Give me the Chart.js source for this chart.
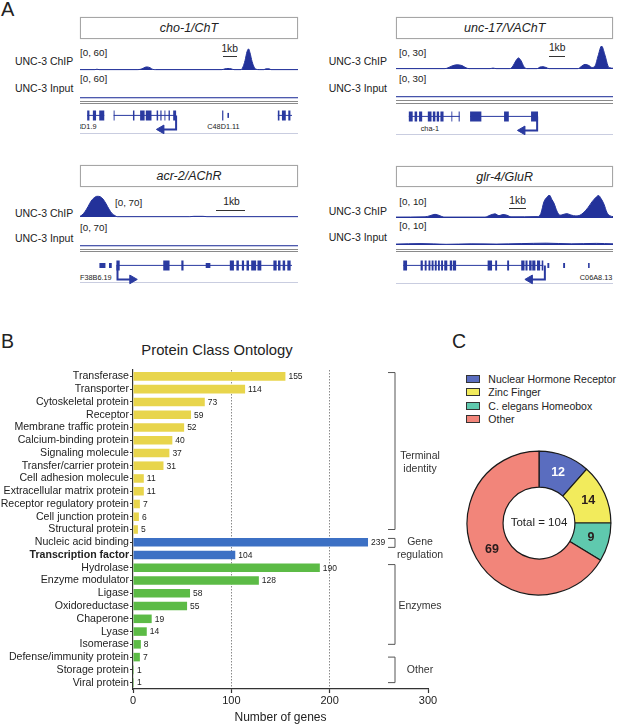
<!DOCTYPE html>
<html><head><meta charset="utf-8">
<script src="https://cdn.jsdelivr.net/npm/chart.js@4.4.1/dist/chart.umd.min.js"></script>
<style>
html,body{margin:0;padding:0;background:#fff;}
#root{position:relative;width:617px;height:725px;overflow:hidden;font-family:"Liberation Sans",Arial,Helvetica,sans-serif;color:#222;}
.t{position:absolute;white-space:nowrap;line-height:1;}
canvas{position:absolute;}
.hl{position:absolute;height:0;}
.box{position:absolute;box-sizing:border-box;border:1px solid #a6a6a6;display:flex;align-items:center;justify-content:center;font-style:italic;font-size:12.5px;color:#222;box-shadow:0 0 1px #ccc;}
</style></head><body><div id="root"></div>
<script>
// ---------------- DATA ----------------
// Panel A: genome-browser tracks, positions in kb from the left edge of each view, [position, signal]
const choChip = [[0,1],[1.07,1],[1.21,2],[1.36,1],[4.14,1],[4.43,3],[4.64,7],[4.79,8],[5.0,6],[5.21,1.5],[5.4,1],[10.14,1],[10.36,3],[10.57,4],[10.79,3],[11.0,1],[11.5,1],[11.64,8],[11.79,25],[11.93,48],[12.04,55],[12.14,45],[12.29,22],[12.43,8],[12.57,2],[12.8,1],[13.14,1],[13.29,3],[13.5,3],[13.64,1],[15.57,1]];
const choInput = [[0,0.6],[15.57,0.6]];
const choExons = [[0.09,0.26],[0.52,0.76],[1.0,1.38],[2.09,2.16],[3.55,3.66],[4.09,4.43],[4.52,4.95],[5.34,5.45],[5.62,5.71],[5.93,6.0],[6.24,6.34],[6.59,6.81],[10.29,10.38],[14.5,14.62],[14.81,15.1],[15.29,15.45]];
const choUtr = [[10.69,10.81]];
const choIntrons = [[0.09,1.38],[2.09,6.81],[14.5,15.57]];
const choTss = [6.81, 5.7];

const uncChip = [[0,0.5],[3.12,0.5],[3.31,1.5],[3.57,4],[3.89,5.5],[4.2,4.5],[4.46,1.5],[4.65,0.5],[5.99,0.5],[6.18,1.2],[6.37,0.5],[7.26,0.5],[7.45,4],[7.64,11],[7.8,14.5],[7.96,11],[8.15,3],[8.34,0.5],[8.98,0.5],[9.17,2.5],[9.36,3],[9.55,2],[9.75,0.5],[11.59,0.5],[11.78,3],[12.04,6],[12.29,4.5],[12.48,2],[12.68,4],[12.87,17],[13.09,30],[13.31,18],[13.5,4],[13.63,1.5],[13.82,1]];
const uncInput = [[0,0.35],[13.82,0.35]];
const uncExons = [[0.46,0.72],[0.85,1.02],[1.15,1.36],[1.74,1.99],[2.08,2.25],[2.34,2.5],[2.59,2.8],[3.33,3.39],[3.82,3.89],[4.59,5.35],[6.88,7.2],[8.7,9.17]];
const uncUtr = [];
const uncIntrons = [[0.46,3.89],[4.59,9.17]];
const uncTss = [9.11, 8.12];

const acrChip = [[0,2],[0.07,6],[0.17,16],[0.28,32],[0.38,48],[0.48,58],[0.59,63],[0.69,62],[0.79,55],[0.9,40],[1.0,24],[1.1,11],[1.21,4],[1.28,1],[3.79,1],[3.93,2],[4.24,2],[4.38,1],[7.52,1]];
const acrInput = [[0,0.7],[7.52,0.7]];
const acrExons = [[1.11,1.23],[2.82,3.05],[3.48,3.56],[5.25,5.4],[5.49,5.58],[5.69,5.77],[5.86,5.95],[6.03,6.21],[6.26,6.4],[6.84,6.96],[7.01,7.1],[7.18,7.27],[7.35,7.47]];
const acrUtr = [[0.49,0.71],[0.84,0.94],[4.37,4.54]];
const acrIntrons = [[1.11,7.52]];
const acrTss = [1.15, 1.69];

const glrChip = [[0,0.4],[1.74,0.5],[2.04,1],[2.34,1.6],[2.63,1],[2.87,0.4],[5.33,0.4],[5.63,1.2],[5.93,1.8],[6.17,1],[6.41,1.5],[6.65,1.2],[6.89,0.5],[8.5,0.6],[8.68,2],[8.86,7],[9.04,9],[9.19,10],[9.34,8],[9.46,6.5],[9.64,3],[9.82,1.2],[10.0,1.5],[10.24,1.9],[10.48,1.3],[10.78,0.9],[11.02,1.2],[11.26,2.5],[11.5,4.5],[11.74,7],[11.98,9],[12.13,9.8],[12.28,8.5],[12.46,6],[12.63,2.5],[12.81,1],[13.0,0.6]];
const glrInput = [[0,0.4],[1.5,0.6],[3,0.3],[4.5,0.5],[6,0.4],[7.5,0.6],[9,0.8],[10.5,0.5],[12,0.7],[13,0.5]];
const glrExons = [[0.08,0.32],[1.18,1.32],[1.44,1.56],[1.68,1.8],[1.88,2.0],[2.08,2.2],[2.28,2.4],[2.48,2.6],[2.68,2.87],[3.03,3.17],[3.22,3.43],[5.43,5.71],[5.91,6.03],[6.67,6.79],[7.56,7.77],[7.83,7.96],[8.06,8.22],[8.26,8.46],[8.56,8.76],[8.86,8.96]];
const glrUtr = [[9.22,9.34],[10.22,10.34],[11.8,11.9]];
const glrIntrons = [[0.08,8.96]];
const glrTss = [9.06, 8.11];

// Panel B: protein class ontology
const categories = ['Transferase','Transporter','Cytoskeletal protein','Receptor','Membrane traffic protein','Calcium-binding protein','Signaling molecule','Transfer/carrier protein','Cell adhesion molecule','Extracellular matrix protein','Receptor regulatory protein','Cell junction protein','Structural protein','Nucleic acid binding','Transcription factor','Hydrolase','Enzyme modulator','Ligase','Oxidoreductase','Chaperone','Lyase','Isomerase','Defense/immunity protein','Storage protein','Viral protein'];
const geneCounts = [155,114,73,59,52,40,37,31,11,11,7,6,5,239,104,190,128,58,55,19,14,8,7,1,1];
const barColorGroup = [0,0,0,0,0,0,0,0,0,0,0,0,0,1,1,2,2,2,2,2,2,2,2,2,2];
const bracketLabels = [['Terminal','identity'],['Gene','regulation'],['Enzymes'],['Other']];
const xTicksB = [0,100,200,300];

// Panel C: transcription factor classes
const tfClasses = ['Nuclear Hormone Receptor','Zinc Finger','C. elegans Homeobox','Other'];
const tfCounts = [12,14,9,69];

// ---------------- STYLE ----------------
const FF = '"Liberation Sans", Arial, Helvetica, sans-serif';
const TRACK = '#23329a', GENE = '#2a3aa0';
const BAR_COLORS = ['#e8d54c','#3c70c4','#5cbb46'];
const TF_COLORS = ['#5a6dbf','#f2eb5c','#5fc9ae','#f2857a'];
Chart.defaults.font.family = FF;
const root = document.getElementById('root');
const BASE = {responsive:false, animation:false, events:[], plugins:{legend:{display:false}, tooltip:{enabled:false}}};

function txt(s, x, y, o={}){
  const d=document.createElement('div'); d.className='t'; d.textContent=s;
  d.style.fontSize=(o.size||10.5)+'px'; d.style.left=x+'px'; d.style.top=y+'px';
  const tx = o.align==='right'?'-100%':(o.align==='center'?'-50%':'0');
  d.style.transform='translate('+tx+',-50%)';
  if(o.bold) d.style.fontWeight='bold';
  if(o.italic) d.style.fontStyle='italic';
  if(o.color) d.style.color=o.color;
  (o.parent||root).appendChild(d); return d;
}
function hline(x1,x2,y,color,w){
  const d=document.createElement('div'); d.className='hl';
  d.style.left=x1+'px'; d.style.width=(x2-x1)+'px'; d.style.top=(y-(w||1)/2)+'px';
  d.style.borderTop=(w||1)+'px solid '+color; root.appendChild(d);
}
function box(x,y,w,h,label){
  const d=document.createElement('div'); d.className='box';
  d.style.left=x+'px'; d.style.top=y+'px'; d.style.width=w+'px'; d.style.height=h+'px';
  d.textContent=label; root.appendChild(d);
}
function canvas(x,y,w,h){
  const c=document.createElement('canvas'); w=Math.round(w); h=Math.round(h);
  c.width=w; c.height=h; c.style.left=x+'px'; c.style.top=y+'px';
  c.style.width=w+'px'; c.style.height=h+'px'; root.appendChild(c); return c;
}
function track(left, base, width, height, span, max, pts){
  const c = canvas(left, base-height, width, height+1);
  new Chart(c, {type:'line', data:{datasets:[{data:pts.map(p=>({x:p[0],y:p[1]})), fill:'origin', backgroundColor:TRACK, borderColor:TRACK, borderWidth:1, pointRadius:0, cubicInterpolationMode:'monotone', clip:false}]},
    options:Object.assign({}, BASE, {layout:{padding:{bottom:1}}, scales:{x:{type:'linear',min:0,max:span,display:false}, y:{min:0,max:max,display:false}}})});
}
function segs(list){ const out=[]; list.forEach((s,i)=>{ if(i>0) out.push({x:s[0],y:null}); out.push({x:s[0],y:0},{x:s[1],y:0}); }); return out; }
function geneTrack(left, cy, width, span, introns, exons, utr, tss){
  const c = canvas(left, cy-12, width, 40);
  const rot = tss[1] < tss[0] ? 270 : 90;
  new Chart(c, {type:'line', data:{datasets:[
    {data:segs(introns), borderColor:GENE, borderWidth:1, pointRadius:0, tension:0, clip:false},
    {data:segs(exons), borderColor:GENE, borderWidth:10, borderCapStyle:'butt', pointRadius:0, tension:0, clip:false},
    {data:segs(utr), borderColor:GENE, borderWidth:5, borderCapStyle:'butt', pointRadius:0, tension:0, clip:false},
    {data:[{x:tss[0],y:0},{x:tss[0],y:-1},{x:tss[1],y:-1}], borderColor:GENE, borderWidth:2, tension:0, borderJoinStyle:'miter',
     pointRadius:[0,0,5], pointStyle:'triangle', pointRotation:rot, pointBackgroundColor:GENE, pointBorderColor:GENE, pointBorderWidth:1, clip:false}
  ]}, options:Object.assign({}, BASE, {scales:{x:{type:'linear',min:0,max:span,display:false}, y:{min:-1.4,max:0.6,display:false}}})});
}

// ---------------- PANEL A ----------------
txt('A', 1, 9, {size:20});
const panels = [
  {L:80, W:218, span:15.57, box:[17,21.5], name:'cho-1/ChT', lab:73.3, chipY:61, inY:88.3, rng:'[0, 60]', rc:[80,53.3], ri:[80,79], max:60,
   chipB:70, inB:98.3, gl:[101.5,103.8], gy:113.3, ll:133.3, sb:[222.7,236.7,56.7,229.7,49.3], chip:choChip, input:choInput, ex:choExons, utr:choUtr, intr:choIntrons, tss:choTss},
  {L:396, W:217.3, span:13.82, box:[17,21.5], name:'unc-17/VAChT', lab:387, chipY:61, inY:88.3, rng:'[0, 30]', rc:[399,53.3], ri:[399,79], max:30,
   chipB:69, inB:97, gl:[101,103.5], gy:113.8, ll:134.3, sb:[549.3,565,56,557.2,48.3], chip:uncChip, input:uncInput, ex:uncExons, utr:uncUtr, intr:uncIntrons, tss:uncTss},
  {L:80, W:218, span:7.52, box:[165,21.7], name:'acr-2/AChR', lab:73.3, chipY:212.7, inY:238, rng:'[0, 70]', rc:[115,203.3], ri:[80,227.7], max:70,
   chipB:216.7, inB:245.7, gl:[249.3,251.7], gy:263.3, ll:282.7, sb:[216,245,210,231.5,201.7], chip:acrChip, input:acrInput, ex:acrExons, utr:acrUtr, intr:acrIntrons, tss:acrTss},
  {L:396, W:217.3, span:13.0, box:[166,21.3], name:'glr-4/GluR', lab:387, chipY:211, inY:236.7, rng:'[0, 10]', rc:[399.3,201.7], ri:[399.3,226], max:10,
   chipB:217.7, inB:245, gl:[249.3,251.7], gy:263.3, ll:283.3, sb:[509.3,526,208.3,517.6,200.7], chip:glrChip, input:glrInput, ex:glrExons, utr:glrUtr, intr:glrIntrons, tss:glrTss}
];
panels.forEach((p,i)=>{
  box(p.L, p.box[0], p.W, p.box[1], p.name);
  txt('UNC-3 ChIP', p.lab, p.chipY, {align:'right'});
  txt('UNC-3 Input', p.lab, p.inY, {align:'right'});
  txt(p.rng, p.rc[0], p.rc[1], {size:9.8});
  txt(p.rng, p.ri[0], p.ri[1], {size:9.8});
  hline(p.sb[0], p.sb[1], p.sb[2], '#333', 1);
  txt('1kb', p.sb[3], p.sb[4], {size:10.3, align:'center'});
  hline(p.L, p.L+p.W, p.gl[0], '#8a8a8a', 1.2);
  hline(p.L, p.L+p.W, p.gl[1], '#8a8a8a', 1.2);
  hline(p.L, p.L+p.W, p.ll, '#c9cde0', 1);
});
// gene names
(function(){
  const clip=document.createElement('div'); clip.style.cssText='position:absolute;left:80px;top:118px;width:40px;height:16px;overflow:hidden;';
  root.appendChild(clip);
  txt('C48D1.9', 96.5-80, 8.7, {size:7.3, align:'right', parent:clip});
})();
txt('C48D1.11', 207.3, 126.7, {size:7.3});
txt('cha-1', 420.7, 129.3, {size:7.3});
txt('F38B6.19', 80, 277.7, {size:7.3});
txt('C06A8.13', 612.3, 278.3, {size:7.3, align:'right'});

panels.forEach(p=>{
  track(p.L, p.chipB, p.W, 23, p.span, p.max, p.chip);
  track(p.L, p.inB, p.W, 23, p.span, p.max, p.input);
  geneTrack(p.L, p.gy, p.W, p.span, p.intr, p.ex, p.utr, p.tss);
});

// ---------------- PANEL B ----------------
txt('B', 1, 341.7, {size:19.5});
txt('Protein Class Ontology', 217, 350, {size:14.8, align:'center'});
const barLabels = {id:'barLabels', afterDatasetsDraw(chart){
  const ctx=chart.ctx, meta=chart.getDatasetMeta(0), vals=chart.data.datasets[0].data;
  ctx.save(); ctx.font='8.5px '+FF; ctx.fillStyle='#222'; ctx.textBaseline='middle'; ctx.textAlign='left';
  meta.data.forEach((bar,i)=>ctx.fillText(String(vals[i]), bar.x+3, bar.y+0.5));
  ctx.restore();
}};
const BRACKET_SPANS = [[-0.3,12],[12.7,13.4],[14.75,21],[22,24]];
const BRACKET_LABEL_AT = [6.75,13.5,18.0,23.05];
const brackets = {id:'brackets', afterDraw(chart){
  const y=chart.scales.y, ctx=chart.ctx, bx=395;
  ctx.save(); ctx.strokeStyle='#555'; ctx.lineWidth=1; ctx.fillStyle='#333';
  ctx.font='10.5px '+FF; ctx.textAlign='center'; ctx.textBaseline='middle';
  bracketLabels.forEach((lines,i)=>{
    const y1=y.getPixelForValue(BRACKET_SPANS[i][0]), y2=y.getPixelForValue(BRACKET_SPANS[i][1]);
    ctx.beginPath(); ctx.moveTo(bx-7,y1); ctx.lineTo(bx,y1); ctx.lineTo(bx,y2); ctx.lineTo(bx-7,y2); ctx.stroke();
    const ly=y.getPixelForValue(BRACKET_LABEL_AT[i]);
    lines.forEach((s,k)=>ctx.fillText(s, 420, ly + (k-(lines.length-1)/2)*12.5));
  });
  ctx.restore();
}};
new Chart(canvas(0,330,445,395), {type:'bar',
  data:{labels:categories, datasets:[{data:geneCounts, backgroundColor:geneCounts.map((v,i)=>BAR_COLORS[barColorGroup[i]]), borderWidth:0, barPercentage:0.67, categoryPercentage:1}]},
  options:Object.assign({}, BASE, {indexAxis:'y', layout:{padding:{top:40,right:17,left:0,bottom:0}},
    scales:{
      x:{min:xTicksB[0], max:xTicksB[xTicksB.length-1], afterBuildTicks:s=>{s.ticks=xTicksB.map(v=>({value:v}));},
         ticks:{color:'#222', font:{size:11}, padding:1},
         grid:{color:c=>(c.tick&&(c.tick.value===100||c.tick.value===200))?'#8a8a8a':'rgba(0,0,0,0)', lineWidth:1, drawOnChartArea:true, drawTicks:true, tickLength:4, tickColor:'#333', tickWidth:1.2},
         border:{display:true, color:'#333', width:1.2, dash:[1.5,1.5]},
         title:{display:true, text:'Number of genes', color:'#222', font:{size:12}, padding:{top:0,bottom:0}},
         afterFit:s=>{s.height=36;}},
      y:{ticks:{color:'#222', autoSkip:false, padding:1, font:c=>({size:10.6, weight:c.index===14?'bold':'normal'})},
         grid:{display:true, drawOnChartArea:false, drawTicks:true, tickLength:3, tickColor:'#333', tickWidth:1, offset:false},
         border:{display:true, color:'#333', width:1.2},
         afterFit:s=>{s.width=133;}}
    }}),
  plugins:[barLabels, brackets]
});

// ---------------- PANEL C ----------------
txt('C', 452, 342, {size:19.5});
const legendRows = [379.3,392.3,405.7,419];
tfClasses.forEach((name,i)=>{
  const b=document.createElement('div');
  b.style.cssText='position:absolute;box-sizing:border-box;left:466px;width:14px;height:8px;border:1px solid #333;';
  b.style.top=(legendRows[i]-4)+'px'; b.style.background=TF_COLORS[i]; root.appendChild(b);
  txt(name, 488.3, legendRows[i], {size:10.5});
});
const donutLabels = {id:'donutLabels', afterDatasetsDraw(chart){
  const ctx=chart.ctx, meta=chart.getDatasetMeta(0), vals=chart.data.datasets[0].data;
  ctx.save(); ctx.textAlign='center'; ctx.textBaseline='middle';
  ctx.font='bold 12.5px '+FF;
  meta.data.forEach((arc,i)=>{ const p=arc.tooltipPosition(); ctx.fillStyle=i===0?'#ffffff':'#2a1c1c'; ctx.fillText(String(vals[i]), p.x, p.y); });
  const a=meta.data[0]; const total=vals.reduce((s,v)=>s+v,0);
  ctx.font='11.5px '+FF; ctx.fillStyle='#222'; ctx.fillText('Total = '+total, a.x, a.y);
  ctx.restore();
}};
new Chart(canvas(464,448,150,150), {type:'doughnut',
  data:{labels:tfClasses, datasets:[{data:tfCounts, backgroundColor:TF_COLORS, borderColor:'#1a1a1a', borderWidth:1.2}]},
  options:Object.assign({}, BASE, {cutout:'50%', layout:{padding:2.5}}),
  plugins:[donutLabels]
});
</script></body></html>
